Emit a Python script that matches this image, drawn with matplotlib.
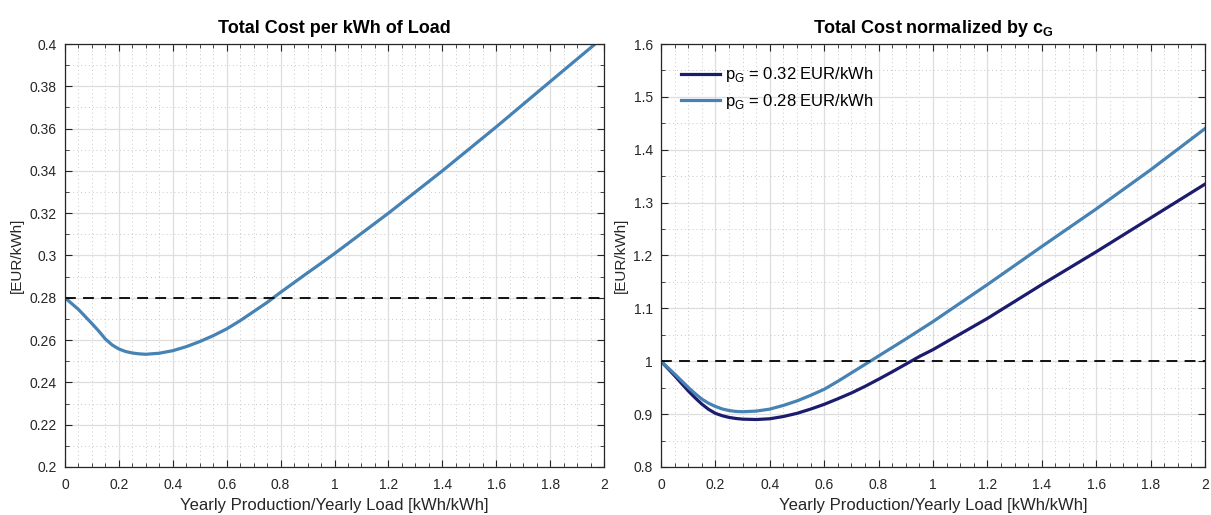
import numpy as np
import matplotlib
matplotlib.use("Agg")
import matplotlib.pyplot as plt
from matplotlib.ticker import MultipleLocator, FuncFormatter

plt.rcParams['font.family'] = ['Liberation Sans', 'DejaVu Sans']
plt.rcParams['mathtext.fontset'] = 'custom'
plt.rcParams['mathtext.rm'] = 'Liberation Sans'
plt.rcParams['mathtext.bf'] = 'Liberation Sans:bold'

# data
ratio = [0, 0.05, 0.1, 0.125, 0.15, 0.175, 0.2, 0.225, 0.25, 0.275, 0.3, 0.35, 0.4,
         0.45, 0.5, 0.55, 0.6, 0.65, 0.7, 0.75, 0.8, 0.85, 0.9, 0.95, 1.0,
         1.2, 1.4, 1.6, 1.8, 2.0]
cost_per_kwh = [0.28, 0.2745, 0.2678, 0.2643, 0.2605, 0.2577, 0.2558, 0.2546, 0.2539,
                0.2535, 0.2533, 0.2538, 0.2550, 0.2569, 0.2593, 0.2621, 0.2653,
                0.2692, 0.2735, 0.2778, 0.2826, 0.2872, 0.2918, 0.2963, 0.3009,
                0.3200, 0.3400, 0.3608, 0.3822, 0.4035]
norm_032 = [1.0, 0.9728, 0.944, 0.931, 0.919, 0.909, 0.9015, 0.897, 0.8938, 0.8918,
            0.8905, 0.8898, 0.8912, 0.8955, 0.9015, 0.9095, 0.9185, 0.929, 0.940,
            0.9525, 0.966, 0.980, 0.9945, 1.009, 1.022, 1.081, 1.145, 1.207, 1.271,
            1.335]
norm_028 = [1.0, 0.976, 0.9506, 0.939, 0.9285, 0.9205, 0.9145, 0.9098, 0.9068, 0.9051,
            0.9045, 0.9057, 0.9095, 0.9165, 0.925, 0.9355, 0.947, 0.962, 0.978,
            0.994, 1.010, 1.026, 1.042, 1.0585, 1.075, 1.145, 1.217, 1.288, 1.362,
            1.440]
grid_price = 0.28
labels = ['p$_\\mathregular{G}$ = 0.32 EUR/kWh', 'p$_\\mathregular{G}$ = 0.28 EUR/kWh']

light = '#4682b4'
dark = '#1c1c6e'
axcol = '#262626'

fig = plt.figure(figsize=(12.11, 5.15), dpi=100)
ax1 = fig.add_axes([65 / 1211, 48 / 515, 539 / 1211, 423 / 515])
ax2 = fig.add_axes([661 / 1211, 48 / 515, 544 / 1211, 423 / 515])

fmt = FuncFormatter(lambda v, p: '%g' % round(v, 6))


def style(ax, ymajor, yminor):
    ax.set_xlim(0, 2)
    ax.xaxis.set_major_locator(MultipleLocator(0.2))
    ax.xaxis.set_minor_locator(MultipleLocator(0.05))
    ax.yaxis.set_major_locator(MultipleLocator(ymajor))
    ax.yaxis.set_minor_locator(MultipleLocator(yminor))
    ax.xaxis.set_major_formatter(fmt)
    ax.yaxis.set_major_formatter(fmt)
    ax.grid(which='major', color='#dedede', linewidth=0.9, linestyle='-')
    ax.grid(which='minor', color='#c8c8c8', linewidth=0.7, linestyle=(0, (1, 3)))
    ax.set_axisbelow(True)
    ax.tick_params(which='both', direction='in', top=True, right=True,
                   colors=axcol, labelsize=10, labelcolor=axcol)
    ax.tick_params(which='major', length=5, width=0.8, pad=6)
    ax.tick_params(axis='x', which='major', pad=8)
    ax.tick_params(which='minor', length=3, width=0.6)
    for s in ax.spines.values():
        s.set_color(axcol)
        s.set_linewidth(0.9)
    ax.set_xlabel('Yearly Production/Yearly Load [kWh/kWh]', fontsize=12, color=axcol)
    ax.set_ylabel('[EUR/kWh]', fontsize=11, color=axcol)


ax1.plot(ratio, cost_per_kwh, color=light, linewidth=2.3)
ax1.axhline(grid_price, color='black', linewidth=1.3, linestyle=(0, (6, 4)))
ax1.set_ylim(0.2, 0.4)
style(ax1, 0.02, 0.01)
ax1.set_title('Total Cost per kWh of Load', fontsize=13, fontweight='bold', pad=8)

ax2.plot(ratio, norm_032, color=dark, linewidth=2.3, label=labels[0])
ax2.plot(ratio, norm_028, color=light, linewidth=2.3, label=labels[1])
ax2.axhline(1.0, color='black', linewidth=1.3, linestyle=(0, (6, 4)))
ax2.set_ylim(0.8, 1.6)
style(ax2, 0.1, 0.05)
ax2.set_title('Total Cost normalized by c$_\\mathregular{G}$', fontsize=13,
              fontweight='bold', pad=8)
leg = ax2.legend(loc='upper left', bbox_to_anchor=(0.01, 0.985), frameon=False,
                 fontsize=12, handlelength=2.3, handletextpad=0.3, labelspacing=0.45)

fig.savefig('out.png', dpi=100)
